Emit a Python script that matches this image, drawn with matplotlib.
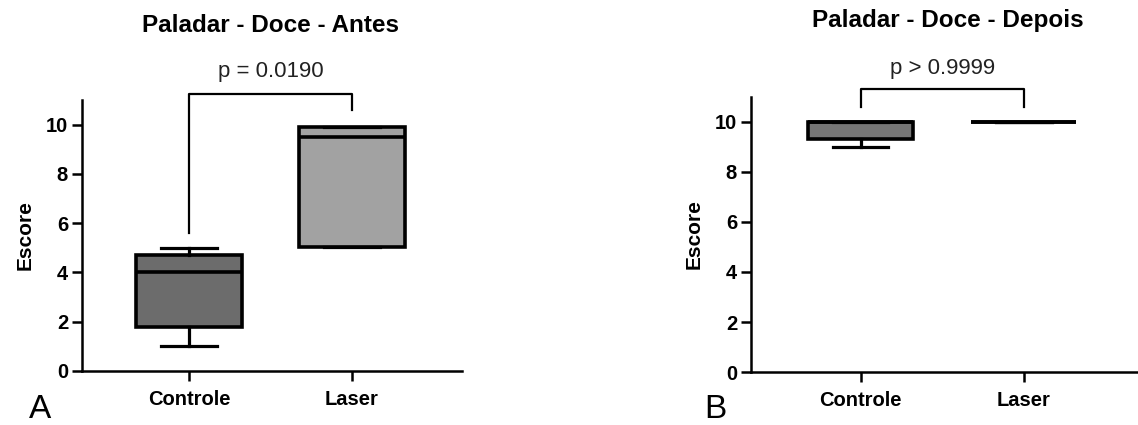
import matplotlib
matplotlib.use("Agg")
import matplotlib.pyplot as plt

plt.rcParams['font.family'] = ['Liberation Sans', 'DejaVu Sans']

groups = ["Controle", "Laser"]

# box stats: (whislo, q1, med, q3, whishi)
antes_controle = [1.0, 1.8, 4.0, 4.7, 5.0]
antes_laser = [5.05, 5.05, 9.5, 9.9, 9.9]
depois_controle = [9.0, 9.3, 10.0, 10.0, 10.0]
depois_laser = [10.0, 10.0, 10.0, 10.0, 10.0]

p_antes = "p = 0.0190"
p_depois = "p > 0.9999"
bracket_antes = [5.6, 11.25, 11.25, 10.6]
bracket_depois = [10.6, 11.3, 11.3, 10.6]

yticks = [0, 2, 4, 6, 8, 10]


def make_stats(vals, label):
    return {'whislo': vals[0], 'q1': vals[1], 'med': vals[2],
            'q3': vals[3], 'whishi': vals[4], 'label': label, 'fliers': []}


def draw_panel(ax, stats, colors, ptext, bracket, xlim):
    bp = ax.bxp(stats, positions=[1, 2], widths=0.645, capwidths=0.34,
                patch_artist=True, showfliers=False,
                boxprops=dict(linewidth=2.6, edgecolor='black'),
                medianprops=dict(color='black', linewidth=2.6),
                whiskerprops=dict(linewidth=2.3),
                capprops=dict(linewidth=2.3))
    for patch, c in zip(bp['boxes'], colors):
        patch.set_facecolor(c)
    ax.set_ylim(0, 11)
    ax.set_xlim(*xlim)
    ax.set_yticks(yticks)
    ax.set_xticks([1, 2])
    ax.set_xticklabels(groups, fontweight='bold', fontsize=14.5)
    for lab in ax.get_yticklabels():
        lab.set_fontweight('bold')
        lab.set_fontsize(14.5)
    ax.spines['top'].set_visible(False)
    ax.spines['right'].set_visible(False)
    ax.spines['left'].set_linewidth(1.8)
    ax.spines['bottom'].set_linewidth(1.8)
    ax.tick_params(axis='x', width=1.8, length=7, direction='out', pad=7)
    ax.tick_params(axis='y', width=1.8, length=7, direction='out', pad=3)
    ax.set_ylabel("Escore", fontweight='bold', fontsize=15, labelpad=8)
    # significance bracket
    ax.plot([1, 1, 2, 2], bracket, color='black', linewidth=1.6, clip_on=False)
    ax.text(1.5, 12.15, ptext, ha='center', va='center',
            fontsize=16, color='#222222', clip_on=False)


fig = plt.figure(figsize=(11.38, 4.25), dpi=100)

ax1 = fig.add_axes([82 / 1138, 1 - 371 / 425, 380 / 1138, 271 / 425])
draw_panel(ax1,
           [make_stats(antes_controle, groups[0]), make_stats(antes_laser, groups[1])],
           ['#6c6c6c', '#a2a2a2'],
           p_antes, bracket_antes, (0.344, 2.675))

ax2 = fig.add_axes([751 / 1138, 1 - 372 / 425, 387 / 1138, 275 / 425])
draw_panel(ax2,
           [make_stats(depois_controle, groups[0]), make_stats(depois_laser, groups[1])],
           ['#767676', '#a2a2a2'],
           p_depois, bracket_depois, (0.327, 2.7))

fig.text(271 / 1138, 1 - 25 / 425, "Paladar - Doce - Antes", fontsize=17.5,
         fontweight='bold', ha='center', va='center')
fig.text(948 / 1138, 1 - 20 / 425, "Paladar - Doce - Depois", fontsize=17.5,
         fontweight='bold', ha='center', va='center')

fig.text(40 / 1138, 1 - 410 / 425, "A", fontsize=24, ha='center', va='center')
fig.text(715 / 1138, 1 - 410 / 425, "B", fontsize=24, ha='center', va='center')

fig.savefig("out.png", dpi=100)
